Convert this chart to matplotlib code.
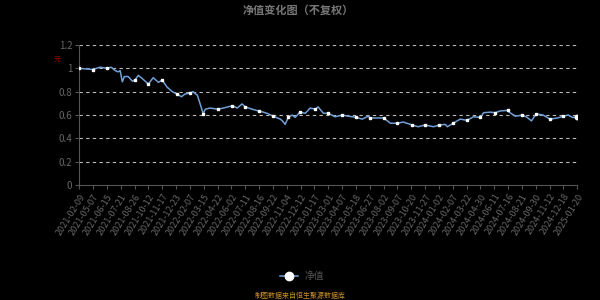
import matplotlib
matplotlib.use("Agg")
import matplotlib.pyplot as plt
from matplotlib.ticker import FuncFormatter

plt.rcParams["font.family"] = ["Noto Sans CJK SC", "DejaVu Sans"]

# Chart style
BG = "#000000"
LINE_COLOR = "#6f9fd6"
GRID_COLOR = "#bbbbbb"
AXIS_COLOR = "#555555"
TEXT_COLOR = "#666666"

TITLE = "净值变化图（不复权）"
SERIES_NAME = "净值"
SOURCE = "制图数据来自恒生聚源数据库"
UNIT = "元"

# Trading-day index of each reading, and the net value
DAYS = [0, 26, 39, 53, 60, 68, 73, 77, 81, 85, 92, 100, 105, 111, 118, 130,
        139, 149, 156, 165, 175, 184, 192, 199, 209, 214, 222, 227, 233, 237,
        246, 261, 271, 288, 297, 306, 312, 325, 337, 346, 353, 365, 378, 382,
        387, 393, 400, 406, 415, 425, 434, 444, 449, 459, 468, 481, 494, 506,
        521, 532, 543, 547, 562, 572, 585, 598, 609, 626, 637, 650, 666, 677,
        688, 692, 703, 716, 729, 741, 754, 760, 773, 782, 791, 805, 808, 820,
        833, 842, 850, 859, 872, 885, 899, 910, 919, 927, 935]
NAV = [1.00, 0.99, 1.01, 1.00, 1.01, 0.98, 0.97, 0.98, 0.885, 0.93, 0.93,
       0.89, 0.90, 0.94, 0.915, 0.865, 0.92, 0.88, 0.90, 0.84, 0.80, 0.78,
       0.757, 0.78, 0.79, 0.80, 0.77, 0.70, 0.61, 0.65, 0.66, 0.65, 0.66,
       0.68, 0.66, 0.695, 0.67, 0.65, 0.635, 0.625, 0.615, 0.59, 0.565, 0.55,
       0.52, 0.58, 0.60, 0.58, 0.625, 0.615, 0.66, 0.65, 0.67, 0.615, 0.615,
       0.585, 0.60, 0.59, 0.58, 0.565, 0.59, 0.575, 0.575, 0.575, 0.53, 0.53,
       0.54, 0.515, 0.50, 0.515, 0.50, 0.515, 0.52, 0.50, 0.53, 0.565, 0.555,
       0.585, 0.58, 0.62, 0.625, 0.62, 0.635, 0.64, 0.625, 0.59, 0.60, 0.58,
       0.55, 0.61, 0.60, 0.565, 0.575, 0.59, 0.60, 0.58, 0.58]
# Readings drawn with a white dot
DOT_DAYS = [0, 26, 53, 105, 130, 156, 184, 209, 233, 261, 288, 312, 337, 365,
            393, 415, 444, 468, 494, 521, 547, 572, 598, 626, 650, 677, 703,
            729, 754, 782, 805, 833, 859, 885, 910, 935]

TICK_STEP = 26
TICK_LABELS = [
    "2021-02-09", "2021-05-07", "2021-06-15", "2021-07-21", "2021-08-26",
    "2021-10-12", "2021-11-17", "2021-12-23", "2022-02-07", "2022-03-15",
    "2022-04-22", "2022-06-02", "2022-07-11", "2022-08-16", "2022-09-22",
    "2022-11-04", "2022-12-12", "2023-01-17", "2023-03-01", "2023-04-07",
    "2023-05-18", "2023-06-27", "2023-08-02", "2023-09-07", "2023-10-20",
    "2023-11-27", "2024-01-02", "2024-02-07", "2024-03-22", "2024-04-30",
    "2024-06-11", "2024-07-16", "2024-08-21", "2024-09-30", "2024-11-12",
    "2024-12-18", "2025-01-20",
]
Y_TICKS = [0, 0.2, 0.4, 0.6, 0.8, 1.0, 1.2]

fig = plt.figure(figsize=(6, 3), dpi=100, facecolor=BG)
ax = fig.add_axes([0.132, 0.383, 0.83, 0.467])
ax.set_facecolor(BG)

marks = [DAYS.index(d) for d in DOT_DAYS]
ax.plot(DAYS, NAV, color=LINE_COLOR, linewidth=1.1,
        marker="s", markersize=1.8, markerfacecolor="white",
        markeredgecolor="white", markevery=marks, zorder=3)
# Last point is highlighted
ax.plot(DAYS[-1:], NAV[-1:], "o", color="white", markersize=3.2, zorder=4)

ax.set_xlim(0, TICK_STEP * (len(TICK_LABELS) - 1))
ax.set_ylim(0, 1.2)

ax.set_yticks(Y_TICKS)
ax.yaxis.set_major_formatter(FuncFormatter(lambda v, _: f"{v:g}"))
ax.set_xticks([i * TICK_STEP for i in range(len(TICK_LABELS))])
ax.set_xticklabels(TICK_LABELS, rotation=58, ha="right", rotation_mode="anchor")

for v in Y_TICKS[1:]:
    ax.axhline(v, color=GRID_COLOR, linewidth=0.8, linestyle=(0, (3, 3)),
               zorder=1)

for side in ("top", "right"):
    ax.spines[side].set_visible(False)
for side in ("left", "bottom"):
    ax.spines[side].set_color(AXIS_COLOR)
    ax.spines[side].set_linewidth(0.8)

ax.tick_params(axis="x", colors=AXIS_COLOR, labelcolor=TEXT_COLOR,
               labelsize=6.5, length=3, width=0.8, pad=2)
ax.tick_params(axis="y", colors=AXIS_COLOR, labelcolor=TEXT_COLOR,
               labelsize=7, length=3, width=0.8, pad=2)

fig.text(0.497, 0.965, TITLE, ha="center", va="center", fontsize=8,
         fontweight="bold", color="#777777")
fig.text(0.095, 0.8, UNIT, ha="center", va="center", fontsize=5,
         color="#990000")

# Legend
fig.lines.append(plt.Line2D([0.466, 0.496], [0.08, 0.08], color=LINE_COLOR,
                            linewidth=1.1, transform=fig.transFigure))
fig.lines.append(plt.Line2D([0.481], [0.08], marker="o", markersize=6,
                            color="white", transform=fig.transFigure))
fig.text(0.508, 0.08, SERIES_NAME, ha="left", va="center", fontsize=7,
         color="#555555")

fig.text(0.5, 0.015, SOURCE, ha="center", va="center", fontsize=5,
         color="#c8902a")

fig.savefig("out.png", dpi=100, facecolor=BG)
